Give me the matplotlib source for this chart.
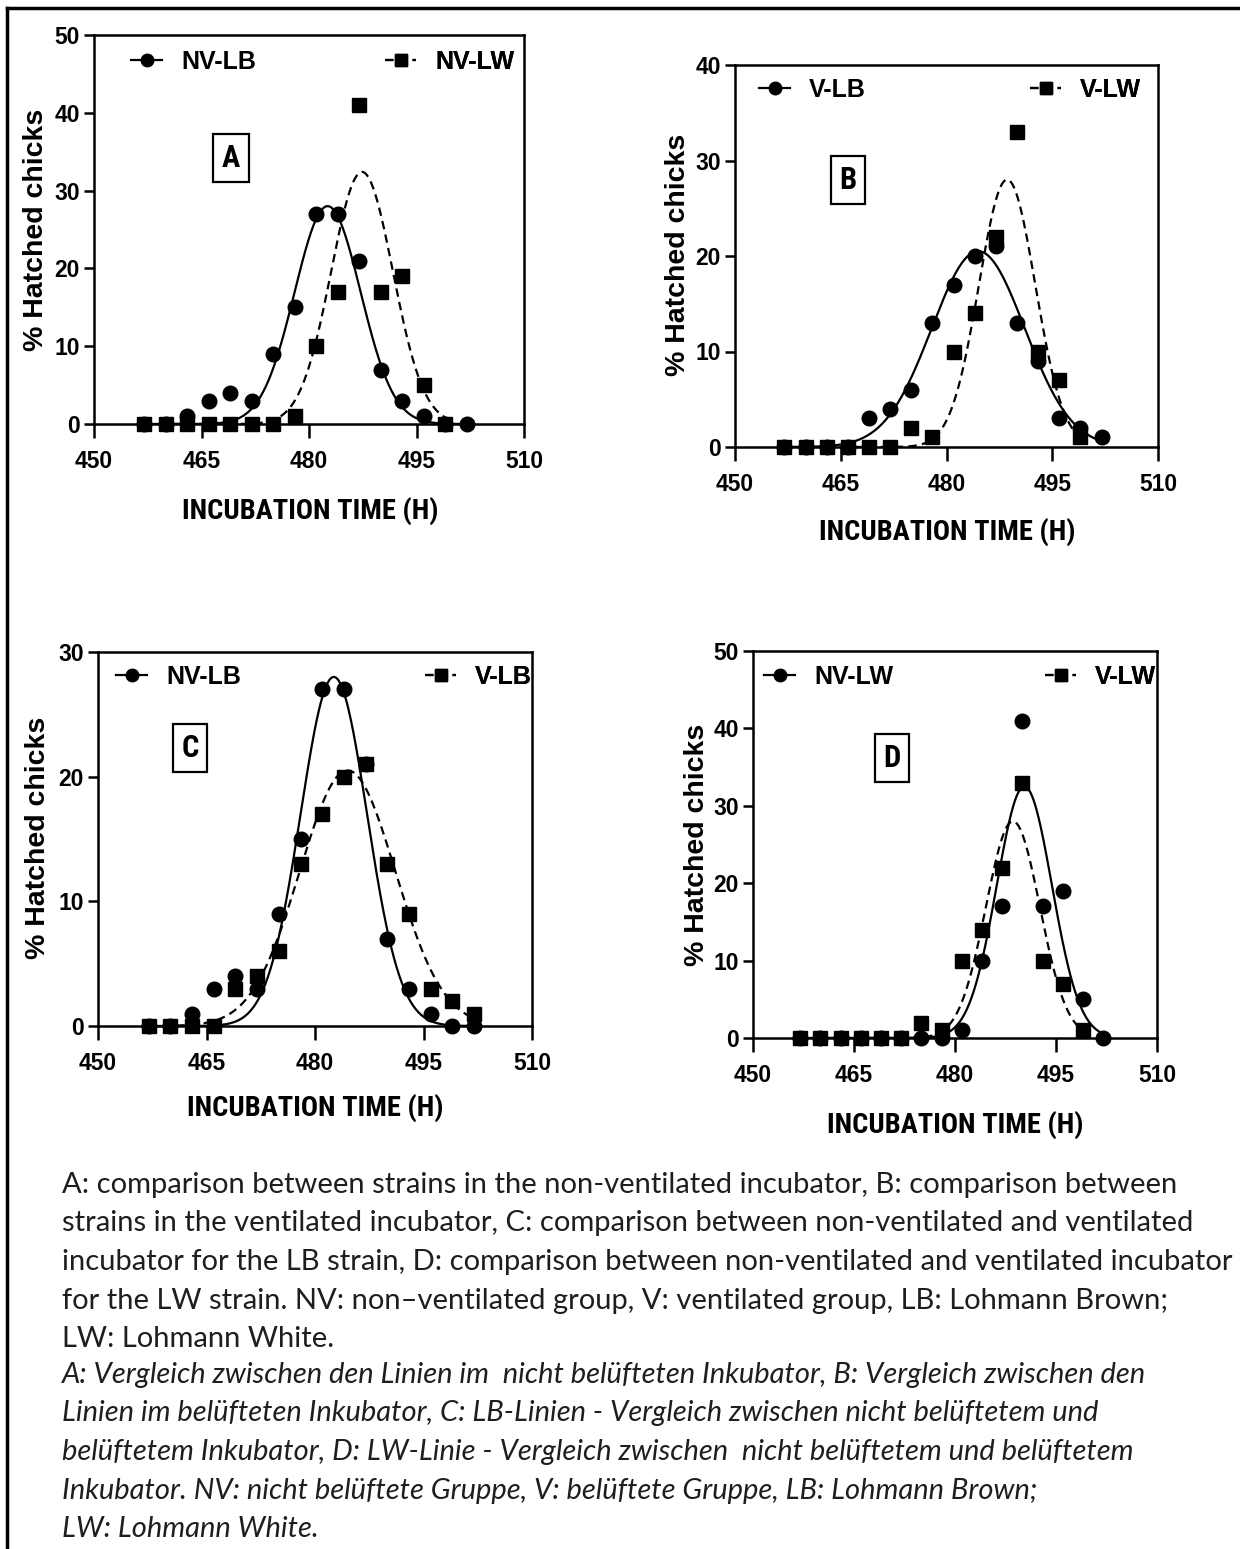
import numpy as np
import matplotlib
matplotlib.use("Agg")
import matplotlib.pyplot as plt
from matplotlib.lines import Line2D
from matplotlib import font_manager

# incubation time points (h)
hours = [457, 460, 463, 466, 469, 472, 475, 478, 481, 484, 487, 490, 493, 496, 499, 502]

nan = np.nan
# % hatched chicks per group
nv_lb = [0, 0, 1, 3, 4, 3, 9, 15, 27, 27, 21, 7, 3, 1, 0, 0]
nv_lw_a = [0, 0, 0, 0, 0, 0, 0, 1, 10, 17, 41, 17, 19, 5, 0, nan]
v_lb = [0, 0, 0, 0, 3, 4, 6, 13, 17, 20, 21, 13, 9, 3, 2, 1]
v_lw = [0, 0, 0, 0, 0, 0, 2, 1, 10, 14, 22, 33, 10, 7, 1, nan]
nv_lw_d = [0, 0, 0, 0, 0, 0, 0, 0, 1, 10, 17, 41, 17, 19, 5, 0]

# gaussian fit parameters (amplitude, centre, sd)
fit_nv_lb = (28.0, 482.6, 4.6)
fit_nv_lw_a = (32.4, 487.4, 4.3)
fit_v_lb = (20.5, 484.5, 6.6)
fit_v_lw = (28.0, 488.6, 4.0)
fit_nv_lw_d = (32.5, 490.3, 4.1)

avail = {f.name for f in font_manager.fontManager.ttflist}


def pick(names):
    for n in names:
        if n in avail:
            return n
    return "DejaVu Sans"


BOLD = pick(["Liberation Sans", "Arial", "Roboto"])
NARROW = pick(["Liberation Sans Narrow", "DejaVu Sans Condensed", "Roboto Condensed"])
if NARROW == "DejaVu Sans":
    NARROW, xt_size, let_size = BOLD, 18, 19
else:
    xt_size, let_size = 20.5, 22
CAPTION = pick(["Lato", "Open Sans", "Noto Sans"])

W, H = 1240, 1549


def fx(x):
    return x / W


def fy(y):
    return 1 - y / H


def gauss(x, p):
    a, m, s = p
    return a * np.exp(-(x - m) ** 2 / (2 * s * s))


fig = plt.figure(figsize=(12.4, 15.49), dpi=100)

# border lines (top + left)
fig.add_artist(Line2D([fx(7), fx(1240)], [fy(8), fy(8)], color="black", lw=2.5))
fig.add_artist(Line2D([fx(7), fx(7)], [fy(8), fy(1549)], color="black", lw=2.5))

panels = [
    dict(rect=(94, 524, 35, 424), ymax=50, s1=(nv_lb, fit_nv_lb), s2=(nv_lw_a, fit_nv_lw_a),
         names=("NV-LB", "NV-LW"), letter="A", lpos=(231, 158), leg=((131, 62), (385, 62)),
         ylab=(36, 230), xlab=(310, 511)),
    dict(rect=(735, 1158, 65, 447), ymax=40, s1=(v_lb, fit_v_lb), s2=(v_lw, fit_v_lw),
         names=("V-LB", "V-LW"), letter="B", lpos=(848, 180), leg=((759, 90), (1030, 90)),
         ylab=(678, 255), xlab=(947, 532)),
    dict(rect=(98, 532, 652, 1026), ymax=30, s1=(nv_lb, fit_nv_lb), s2=(v_lb, fit_v_lb),
         names=("NV-LB", "V-LB"), letter="C", lpos=(190, 748), leg=((116, 677), (425, 677)),
         ylab=(38, 838), xlab=(315, 1108)),
    dict(rect=(753, 1157, 651, 1038), ymax=50, s1=(nv_lw_d, fit_nv_lw_d), s2=(v_lw, fit_v_lw),
         names=("NV-LW", "V-LW"), letter="D", lpos=(892, 758), leg=((764, 677), (1045, 677)),
         ylab=(697, 845), xlab=(955, 1125)),
]

for p in panels:
    l, r, t, b = p["rect"]
    ax = fig.add_axes([fx(l), fy(b), (r - l) / W, (b - t) / H])
    ax.set_xlim(450, 510)
    ax.set_ylim(0, p["ymax"])
    ax.set_xticks([450, 465, 480, 495, 510])
    ax.set_yticks(np.arange(0, p["ymax"] + 1, 10))
    for sp in ax.spines.values():
        sp.set_linewidth(1.8)
    ax.tick_params(axis="x", direction="out", length=10, width=1.8, pad=9)
    ax.tick_params(axis="y", direction="out", length=7, width=1.8, pad=3)
    for lab in ax.get_xticklabels() + ax.get_yticklabels():
        lab.set_fontfamily(BOLD)
        lab.set_fontweight("bold")
        lab.set_fontsize(16.5)

    handles = []
    for (vals, fit), mk, ls in [(p["s1"], "o", "-"), (p["s2"], "s", (0, (3.8, 2.4)))]:
        v = np.array(vals, dtype=float)
        hrs = np.array(hours, dtype=float)
        ok = ~np.isnan(v)
        ax.plot(hrs[ok], v[ok], linestyle="none", marker=mk, color="black",
                markersize=10.5 if mk == "o" else 9.8, clip_on=False, zorder=3)
        xs = np.linspace(hrs[ok].min(), hrs[ok].max(), 400)
        ax.plot(xs, gauss(xs, fit), color="black", lw=1.6, linestyle=ls, zorder=2)
        handles.append(Line2D([], [], color="black", lw=1.6, linestyle=ls, marker=mk,
                              markersize=9))

    for h, name, (lx, ly) in zip(handles, p["names"], p["leg"]):
        lg = ax.legend([h], [name], loc="center left", bbox_to_anchor=(fx(lx), fy(ly)),
                       bbox_transform=fig.transFigure, frameon=False, handlelength=1.25,
                       handletextpad=0.75, borderpad=0, borderaxespad=0,
                       prop=dict(family=BOLD, weight="bold", size=18))
        ax.add_artist(lg)

    fig.text(fx(p["lpos"][0]), fy(p["lpos"][1]), p["letter"], ha="center", va="center",
             family=NARROW, weight="bold", fontsize=let_size,
             bbox=dict(boxstyle="square,pad=0.28", fc="white", ec="black", lw=1.6))
    fig.text(fx(p["ylab"][0]), fy(p["ylab"][1]), "% Hatched chicks", rotation=90,
             ha="center", va="center", family=BOLD, weight="bold", fontsize=20.5)
    fig.text(fx(p["xlab"][0]), fy(p["xlab"][1]), "INCUBATION TIME (H)", ha="center",
             va="center", family=NARROW, weight="bold", fontsize=xt_size)

caption_en = [
    "A: comparison between strains in the non-ventilated incubator, B: comparison between",
    "strains in the ventilated incubator, C: comparison between non-ventilated and ventilated",
    "incubator for the LB strain, D: comparison between non-ventilated and ventilated incubator",
    "for the LW strain. NV: non\u2013ventilated group, V: ventilated group, LB: Lohmann Brown;",
    "LW: Lohmann White.",
]
caption_de = [
    "A: Vergleich zwischen den Linien im  nicht belüfteten Inkubator, B: Vergleich zwischen den",
    "Linien im belüfteten Inkubator, C: LB-Linien - Vergleich zwischen nicht belüftetem und",
    "belüftetem Inkubator, D: LW-Linie - Vergleich zwischen  nicht belüftetem und belüftetem",
    "Inkubator. NV: nicht belüftete Gruppe, V: belüftete Gruppe, LB: Lohmann Brown;",
    "LW: Lohmann White.",
]
for i, line in enumerate(caption_en):
    fig.text(fx(62), fy(1193 + 38.5 * i), line, ha="left", va="baseline",
             family=[CAPTION, "DejaVu Sans"], fontsize=21, color="#1e1e1e")
for i, line in enumerate(caption_de):
    fig.text(fx(62), fy(1383 + 38.5 * i), line, ha="left", va="baseline",
             family=[CAPTION, "DejaVu Sans"], style="italic", fontsize=21, color="#1e1e1e")

fig.savefig("out.png", dpi=100)
